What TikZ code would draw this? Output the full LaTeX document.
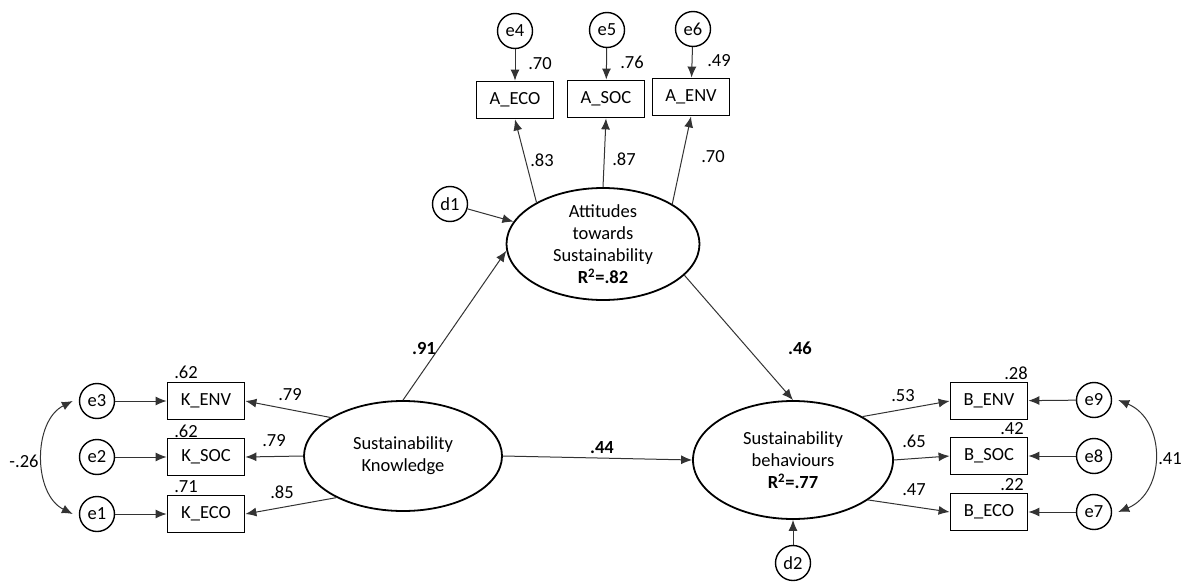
\documentclass[tikz,border=0pt]{standalone}
\usepackage{fontspec}
\setmainfont{Carlito}
\usetikzlibrary{shapes.geometric,arrows.meta}
\begin{document}
\begin{tikzpicture}[x=1pt,y=-1pt,
  every node/.style={font=\fontsize{18.5}{22}\selectfont},
  lat/.style={ellipse, draw, line width=1.8pt, inner sep=0pt, align=center},
  obs/.style={rectangle, draw, line width=1.8pt, minimum width=77pt, minimum height=37pt, inner sep=0pt},
  err/.style={circle, draw, line width=1.4pt, minimum size=35pt, inner sep=0pt},
  path/.style={draw=black!80, line width=1pt, -{Latex[length=11pt,width=9pt]}},
  cov/.style={draw=black!80, line width=1pt, {Latex[length=11pt,width=9pt]}-{Latex[length=11pt,width=9pt]}},
  coef/.style={inner sep=0pt},
  bcoef/.style={inner sep=0pt, font=\fontsize{18.5}{22}\selectfont\bfseries}]
\fill[white] (0,0) rectangle (1186,583);
\path[use as bounding box] (0,0) rectangle (1186,583);

% latent variables
\node[lat, minimum width=198pt, minimum height=110pt] (K) at (403,456) {Sustainability\\Knowledge};
\node[lat, minimum width=193pt, minimum height=112pt] (A) at (603,244) {Attitudes\\towards\\Sustainability\\\textbf{R\textsuperscript{2}=.82}};
\node[lat, minimum width=200pt, minimum height=118pt] (B) at (793,460) {Sustainability\\behaviours\\\textbf{R\textsuperscript{2}=.77}};

% observed: knowledge
\node[obs] (kenv) at (206,401) {K\_ENV};
\node[obs] (ksoc) at (206,457) {K\_SOC};
\node[obs] (keco) at (206,514) {K\_ECO};
% observed: attitudes
\node[obs] (aeco) at (515,100) {A\_ECO};
\node[obs] (asoc) at (606,99) {A\_SOC};
\node[obs] (aenv) at (691,97) {A\_ENV};
% observed: behaviours
\node[obs] (benv) at (989,401) {B\_ENV};
\node[obs] (bsoc) at (989,456) {B\_SOC};
\node[obs] (beco) at (989,512) {B\_ECO};

% errors
\node[err] (e3) at (97,401) {e3};
\node[err] (e2) at (97,457) {e2};
\node[err] (e1) at (97,514) {e1};
\node[err] (e4) at (515,31) {e4};
\node[err] (e5) at (607,30) {e5};
\node[err] (e6) at (693,29) {e6};
\node[err] (e9) at (1094,400) {e9};
\node[err] (e8) at (1094,456) {e8};
\node[err] (e7) at (1094,512) {e7};
\node[err] (d1) at (450,204) {d1};
\node[err] (d2) at (793,563) {d2};

% error paths
\draw[path] (e3) -- (kenv);
\draw[path] (e2) -- (ksoc);
\draw[path] (e1) -- (keco);
\draw[path] (e4) -- (aeco);
\draw[path] (e5) -- (asoc);
\draw[path] (e6) -- (aenv);
\draw[path] (e9) -- (benv);
\draw[path] (e8) -- (bsoc);
\draw[path] (e7) -- (beco);
\draw[path] (d1) -- (A.166);
\draw[path] (d2) -- (B.south);

% loadings
\draw[path] (K.152) -- (kenv.east);
\draw[path] (K.west) -- (ksoc.east);
\draw[path] (K.212) -- (keco.east);
\draw[path] (A.148) -- (aeco.south);
\draw[path] (A.north) -- (asoc.south);
\draw[path] (A.30) -- (aenv.south);
\draw[path] (B.32) -- (benv.west);
\draw[path] (B.east) -- (bsoc.west);
\draw[path] (B.332) -- (beco.west);

% structural paths
\draw[path] (K.north) -- (A.184);
\draw[path] (A.339) -- (B.north);
\draw[path] (K.east) -- (B.west);

% covariances
\draw[cov] ([xshift=-6pt]e3.west) .. controls +(-40,20) and +(-40,-20) .. ([xshift=-6pt]e1.west);
\draw[cov] ([xshift=6pt]e9.east) .. controls +(48,20) and +(48,-20) .. ([xshift=6pt]e7.east);

% coefficients
\node[coef] (c62a) at (186,372) {.62};
\node[coef] (c62b) at (186,431) {.62};
\node[coef] (c71) at (186,487) {.71};
\node[coef] (c79a) at (290,395) {.79};
\node[coef] (c79b) at (274,441) {.79};
\node[coef] (c85) at (282,492) {.85};
\node[coef] (c26) at (24,461) {-.26};
\node[coef] (c70a) at (540,64) {.70};
\node[coef] (c76) at (632,62) {.76};
\node[coef] (c49) at (719,61) {.49};
\node[coef] (c83) at (542,160) {.83};
\node[coef] (c87) at (624,159) {.87};
\node[coef] (c70b) at (713,157) {.70};
\node[bcoef] (c91) at (424,348) {.91};
\node[bcoef] (c46) at (800,348) {.46};
\node[bcoef] (c44) at (602,448) {.44};
\node[coef] (c53) at (903,396) {.53};
\node[coef] (c65) at (914,441) {.65};
\node[coef] (c47) at (914,490) {.47};
\node[coef] (c28) at (1016,373) {.28};
\node[coef] (c42) at (1012,429) {.42};
\node[coef] (c22) at (1012,485) {.22};
\node[coef] (c41) at (1170,459) {.41};
\end{tikzpicture}
\end{document}
